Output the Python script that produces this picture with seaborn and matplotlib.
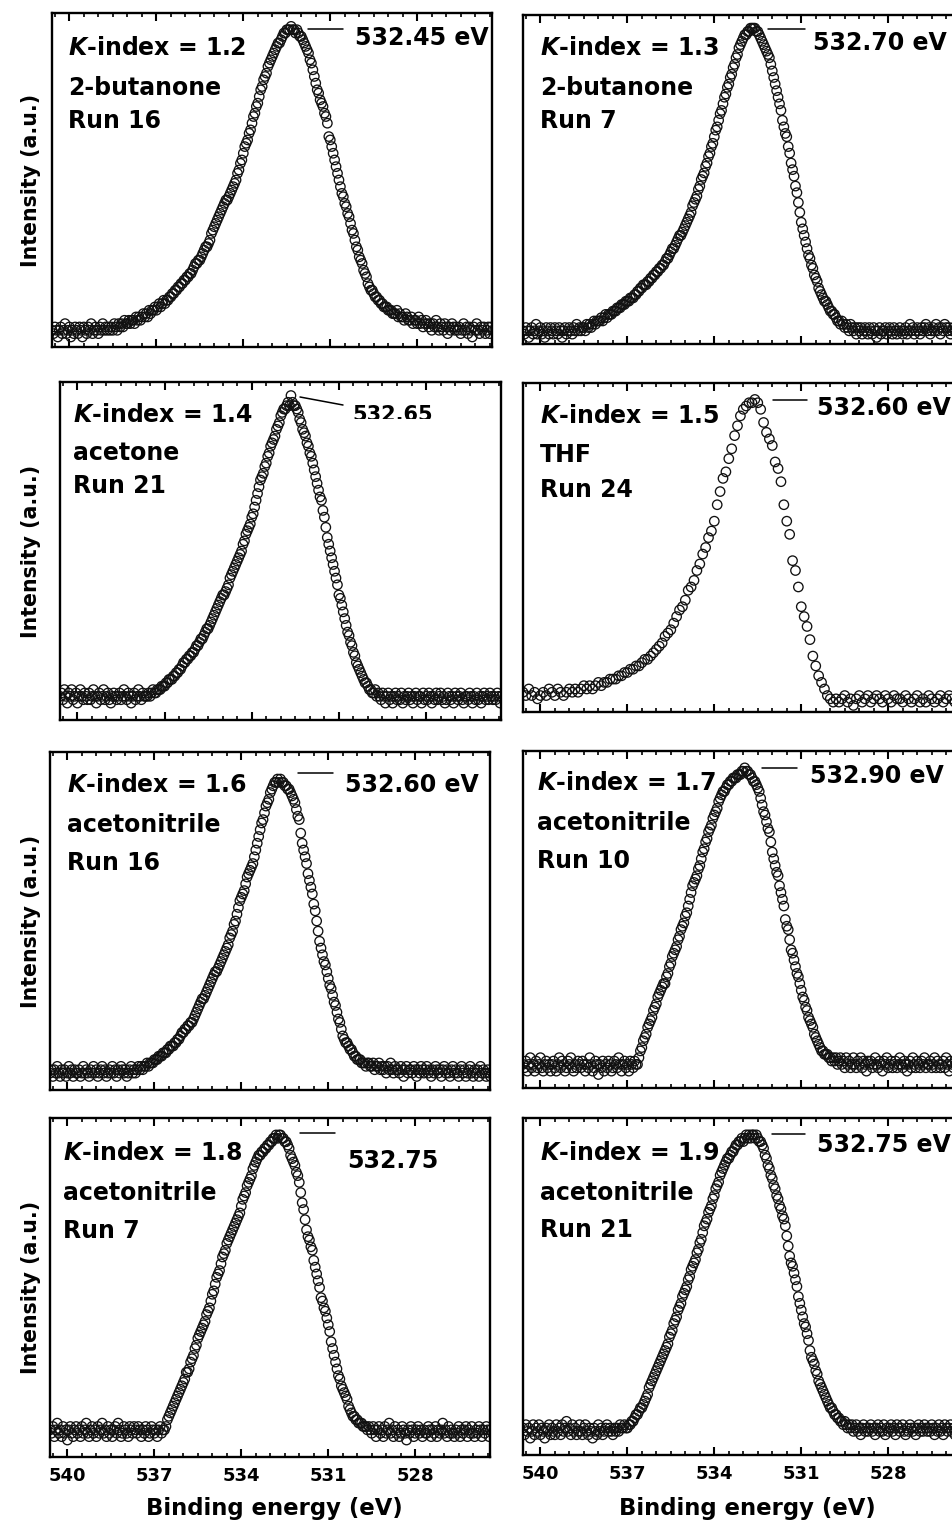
import numpy as np
import matplotlib
matplotlib.use("Agg")
import matplotlib.pyplot as plt
import seaborn as sns
from matplotlib.lines import Line2D
from matplotlib.ticker import MultipleLocator, FixedLocator
from matplotlib.transforms import Bbox, TransformedBbox

sns.set_style("white")
plt.rcParams["font.family"] = ["DejaVu Sans"]
plt.rcParams["font.weight"] = "bold"
plt.rcParams["mathtext.fontset"] = "dejavusans"
plt.rcParams["text.color"] = "black"
plt.rcParams["axes.labelcolor"] = "black"
plt.rcParams["axes.edgecolor"] = "black"
plt.rcParams["xtick.color"] = "black"
plt.rcParams["xtick.labelcolor"] = "black"

# ---------------------------------------------------------------- data
# O 1s spectra, intensity in % of the panel height; energies run from
# E_START downwards in fixed steps (one row below = 1 eV).
E_START = 540.60
STEP_FINE = 0.05
STEP_COARSE = 0.10

k_index = ["1.2", "1.3", "1.4", "1.5", "1.6", "1.7", "1.8", "1.9"]
solvents = ["2-butanone", "2-butanone", "acetone", "THF",
            "acetonitrile", "acetonitrile", "acetonitrile", "acetonitrile"]
runs = ["Run 16", "Run 7", "Run 21", "Run 24", "Run 16", "Run 10", "Run 7", "Run 21"]
peak_labels = ["532.45 eV", "532.70 eV", "532.65", "532.60 eV",
               "532.60 eV", "532.90 eV", "532.75", "532.75 eV"]
x_ticks = [540, 537, 534, 531, 528]

int_k12 = [
    5, 4, 6, 5, 3, 5, 6, 4, 5, 7, 4, 5, 6, 3, 5, 4, 6, 5, 4, 6,
    5, 3, 6, 5, 4, 6, 5, 7, 4, 5, 6, 5, 4, 6, 5, 7, 5, 6, 5, 6,
    5, 6, 5, 7, 6, 5, 7, 6, 7, 6, 8, 7, 7, 8, 7, 8, 8, 7, 9, 8,
    9, 8, 9, 10, 9, 10, 9, 11, 10, 11, 11, 12, 11, 12, 13, 12, 13, 14, 13, 14,
    14, 15, 15, 16, 16, 17, 17, 18, 18, 19, 19, 20, 20, 21, 21, 22, 22, 23, 24, 25,
    25, 26, 26, 27, 28, 29, 30, 30, 31, 32, 34, 35, 36, 37, 38, 39, 40, 41, 42, 43,
    44, 44, 45, 46, 47, 48, 49, 50, 52, 53, 55, 56, 58, 60, 61, 62, 64, 65, 67, 69,
    70, 72, 73, 75, 77, 78, 80, 81, 82, 84, 85, 86, 87, 88, 89, 90, 91, 91, 92, 93,
    94, 94, 95, 95, 95, 96, 95, 95, 94, 95, 94, 93, 93, 92, 91, 90, 89, 88, 86, 85,
    83, 81, 79, 77, 76, 74, 73, 72, 70, 69, 67, 63, 62, 60, 58, 56, 54, 52, 50, 48,
    46, 45, 43, 42, 40, 39, 37, 35, 34, 32, 30, 29, 27, 26, 25, 23, 22, 21, 19, 18,
    17, 17, 16, 15, 15, 14, 14, 13, 13, 12, 12, 12, 11, 11, 11, 10, 10, 10, 11, 9,
    10, 9, 9, 8, 10, 9, 8, 8, 9, 7, 8, 8, 7, 9, 7, 8, 6, 7, 8, 7,
    6, 7, 5, 7, 6, 8, 6, 5, 7, 6, 5, 7, 6, 4, 6, 5, 7, 6, 5, 6,
    5, 6, 4, 5, 7, 5, 6, 4, 6, 5, 3, 6, 5, 7, 5, 4, 6, 5, 6, 4,
    5, 6, 4, 6, 5,
]

int_k13 = [
    4, 3, 5, 4, 2, 4, 5, 3, 4, 6, 3, 4, 5, 3, 4, 2, 5, 4, 3, 5,
    4, 3, 5, 4, 3, 5, 4, 2, 4, 5, 3, 4, 5, 4, 3, 5, 4, 6, 4, 5,
    4, 5, 5, 4, 6, 5, 6, 5, 6, 7, 6, 7, 7, 7, 8, 7, 8, 9, 8, 9,
    9, 9, 10, 10, 10, 11, 11, 11, 12, 12, 12, 13, 13, 13, 14, 14, 14, 15, 15, 16,
    16, 17, 17, 18, 18, 18, 19, 19, 20, 20, 21, 21, 22, 22, 23, 23, 24, 24, 25, 26,
    26, 27, 28, 29, 29, 30, 31, 32, 33, 33, 34, 35, 36, 37, 38, 39, 40, 42, 43, 44,
    45, 47, 48, 50, 51, 52, 54, 55, 57, 58, 60, 61, 63, 65, 66, 68, 70, 71, 73, 75,
    76, 78, 79, 81, 82, 84, 85, 87, 88, 90, 91, 92, 93, 94, 94, 95, 95, 96, 96, 96,
    96, 95, 95, 94, 93, 92, 91, 90, 89, 88, 87, 85, 83, 81, 79, 77, 75, 73, 71, 68,
    66, 64, 63, 60, 58, 55, 53, 51, 48, 46, 43, 40, 37, 35, 33, 31, 29, 27, 26, 24,
    23, 21, 20, 19, 17, 16, 15, 14, 13, 13, 12, 11, 10, 10, 9, 9, 8, 7, 7, 6,
    7, 6, 5, 6, 5, 4, 6, 5, 4, 5, 3, 5, 4, 5, 3, 4, 5, 4, 3, 5,
    4, 3, 5, 4, 2, 4, 5, 3, 4, 4, 5, 3, 4, 5, 4, 3, 5, 4, 3, 4,
    5, 4, 3, 4, 5, 3, 4, 6, 4, 5, 3, 4, 5, 4, 3, 5, 4, 5, 6, 4,
    5, 3, 4, 5, 4, 6, 4, 5, 3, 5, 4, 6, 5, 4, 5, 3, 4, 5, 4, 5,
    4, 5, 3, 4, 5,
]

int_k14 = [
    7, 8, 6, 9, 7, 5, 8, 7, 9, 6, 7, 8, 5, 7, 9, 7, 6, 8, 7, 6,
    8, 6, 7, 9, 7, 5, 7, 8, 6, 7, 9, 6, 7, 8, 6, 5, 7, 8, 7, 6,
    7, 8, 6, 7, 9, 7, 6, 8, 7, 5, 7, 8, 6, 7, 9, 7, 6, 8, 7, 7,
    7, 8, 7, 8, 9, 8, 8, 9, 9, 9, 10, 10, 10, 11, 11, 12, 12, 12, 13, 13,
    14, 14, 15, 15, 16, 17, 17, 18, 18, 19, 19, 20, 20, 21, 22, 22, 23, 24, 24, 25,
    26, 27, 27, 28, 29, 30, 31, 32, 33, 34, 35, 36, 37, 37, 38, 39, 40, 42, 43, 44,
    45, 46, 47, 48, 49, 50, 52, 53, 55, 56, 57, 58, 60, 61, 63, 65, 67, 69, 71, 72,
    73, 75, 76, 78, 79, 81, 82, 83, 84, 86, 87, 88, 90, 91, 92, 92, 93, 94, 93, 96,
    94, 93, 93, 92, 91, 89, 88, 86, 85, 84, 82, 81, 79, 78, 76, 74, 72, 70, 68, 66,
    65, 62, 60, 57, 54, 52, 50, 48, 46, 44, 42, 40, 37, 36, 34, 32, 30, 28, 26, 25,
    23, 22, 20, 19, 17, 16, 15, 14, 13, 12, 11, 11, 10, 9, 9, 8, 8, 9, 7, 8,
    7, 6, 8, 7, 5, 7, 8, 6, 7, 5, 7, 8, 6, 7, 6, 8, 5, 7, 6, 7,
    8, 6, 7, 5, 7, 8, 6, 7, 7, 5, 8, 6, 7, 6, 8, 7, 5, 7, 6, 8,
    6, 7, 8, 6, 7, 5, 6, 8, 7, 6, 7, 5, 8, 7, 6, 7, 8, 6, 5, 7,
    7, 6, 8, 7, 5, 7, 6, 8, 6, 7, 5, 7, 8, 6, 7, 6, 8, 7, 6, 7,
    6, 8, 7, 5, 7,
]

# THF run, recorded with the coarser 0.1 eV step (ten values per row)
int_k15 = [
    6, 5, 7, 5, 6, 4, 5, 6, 5, 7,
    6, 5, 7, 6, 5, 6, 7, 6, 7, 6,
    7, 8, 7, 8, 7, 8, 9, 8, 9, 9,
    10, 10, 10, 11, 11, 12, 12, 13, 13, 14,
    14, 15, 16, 16, 17, 18, 19, 20, 21, 23,
    24, 25, 27, 29, 31, 32, 34, 37, 38, 40,
    43, 45, 48, 50, 53, 55, 58, 63, 67, 71,
    73, 77, 80, 84, 87, 90, 92, 93, 94, 94,
    95, 94, 92, 88, 85, 83, 81, 76, 74, 70,
    63, 58, 54, 46, 43, 38, 32, 29, 26, 22,
    17, 14, 11, 9, 7, 5, 4, 3, 4, 3,
    4, 5, 3, 4, 2, 4, 5, 3, 4, 5,
    3, 4, 5, 4, 3, 5, 4, 3, 5, 4,
    4, 3, 5, 4, 3, 4, 5, 3, 4, 3,
    5, 4, 3, 4, 5, 3, 4, 5, 4, 3,
    4, 5, 3,
]

int_k16 = [
    5, 6, 4, 6, 5, 7, 5, 4, 6, 5, 6, 4, 5, 7, 5, 6, 4, 6, 5, 5,
    6, 4, 5, 7, 5, 6, 5, 4, 6, 5, 7, 5, 6, 4, 5, 6, 7, 5, 6, 4,
    5, 6, 5, 7, 5, 6, 4, 6, 5, 7, 6, 5, 6, 4, 5, 6, 7, 5, 6, 5,
    6, 7, 6, 7, 6, 7, 7, 8, 7, 8, 8, 8, 9, 9, 9, 10, 10, 10, 11, 11,
    11, 12, 12, 13, 13, 13, 14, 14, 15, 15, 16, 17, 17, 18, 18, 19, 19, 20, 20, 21,
    22, 23, 24, 25, 26, 27, 27, 28, 29, 30, 31, 32, 33, 34, 35, 35, 36, 37, 38, 39,
    40, 41, 42, 43, 45, 46, 47, 49, 50, 52, 54, 56, 57, 58, 59, 61, 63, 64, 65, 66,
    67, 69, 71, 73, 75, 77, 79, 80, 82, 84, 85, 86, 88, 89, 90, 91, 91, 92, 91, 92,
    91, 91, 90, 90, 89, 89, 88, 87, 86, 85, 83, 81, 80, 76, 73, 71, 69, 67, 64, 62,
    60, 58, 55, 53, 50, 47, 44, 42, 40, 38, 37, 35, 33, 31, 30, 28, 26, 25, 23, 21,
    20, 18, 16, 15, 14, 14, 13, 12, 12, 11, 10, 10, 9, 9, 9, 8, 8, 8, 7, 8,
    8, 7, 7, 8, 6, 7, 7, 8, 6, 7, 6, 7, 5, 7, 6, 8, 6, 5, 7, 6,
    6, 5, 7, 6, 4, 6, 7, 5, 6, 6, 5, 7, 6, 4, 6, 5, 7, 6, 5, 6,
    7, 5, 6, 4, 6, 5, 7, 6, 5, 6, 4, 6, 7, 5, 6, 5, 4, 6, 7, 5,
    6, 5, 4, 6, 7, 5, 6, 4, 5, 6, 7, 5, 4, 6, 5, 6, 4, 7, 5, 6,
    5, 4, 6, 5, 4,
]

int_k17 = [
    7, 6, 8, 5, 7, 9, 6, 7, 5, 8, 6, 7, 9, 6, 5, 7, 8, 6, 7, 5,
    7, 8, 6, 5, 7, 9, 6, 8, 7, 5, 6, 8, 7, 9, 6, 5, 7, 6, 8, 7,
    6, 8, 7, 5, 7, 6, 9, 7, 5, 6, 8, 7, 4, 7, 6, 8, 5, 7, 6, 8,
    7, 5, 6, 8, 7, 6, 9, 7, 5, 7, 8, 6, 7, 5, 8, 7, 6, 8, 7, 7,
    9, 11, 12, 14, 15, 16, 18, 19, 20, 21, 23, 24, 25, 27, 28, 29, 30, 31, 31, 33,
    34, 36, 37, 39, 40, 41, 42, 44, 45, 47, 48, 49, 51, 52, 54, 56, 58, 60, 61, 62,
    63, 65, 66, 68, 70, 71, 73, 74, 76, 77, 78, 80, 81, 82, 83, 85, 86, 87, 88, 88,
    89, 90, 90, 91, 91, 92, 92, 92, 93, 93, 93, 94, 94, 95, 94, 94, 93, 93, 92, 91,
    91, 90, 89, 88, 86, 84, 82, 81, 79, 77, 76, 73, 70, 68, 66, 64, 63, 60, 58, 56,
    54, 50, 48, 47, 44, 41, 40, 38, 36, 34, 33, 31, 29, 27, 26, 24, 23, 21, 20, 19,
    18, 16, 15, 14, 13, 12, 11, 11, 10, 10, 10, 9, 9, 8, 9, 8, 9, 7, 8, 9,
    7, 8, 6, 9, 7, 8, 6, 7, 9, 7, 6, 8, 7, 9, 6, 8, 7, 5, 8, 7,
    8, 6, 7, 9, 7, 6, 8, 7, 5, 8, 7, 9, 6, 7, 8, 6, 7, 8, 6, 7,
    9, 7, 6, 8, 7, 5, 7, 8, 6, 9, 7, 6, 8, 7, 6, 8, 7, 9, 6, 7,
    7, 8, 6, 7, 9, 6, 8, 7, 6, 7, 8, 6, 9, 7, 5, 8, 7, 6, 8, 7,
    8, 7, 6, 8, 7,
]

int_k18 = [
    8, 7, 9, 6, 8, 10, 7, 8, 6, 9, 7, 8, 5, 8, 9, 7, 6, 8, 9, 7,
    8, 6, 9, 7, 8, 10, 7, 6, 8, 9, 7, 8, 6, 9, 7, 8, 10, 7, 8, 6,
    9, 7, 8, 6, 8, 9, 7, 10, 8, 6, 7, 9, 8, 7, 6, 9, 8, 7, 9, 8,
    7, 9, 8, 6, 8, 7, 9, 8, 6, 7, 9, 8, 7, 8, 6, 8, 9, 7, 8, 8,
    9, 11, 12, 13, 14, 15, 16, 17, 18, 19, 20, 21, 22, 23, 25, 25, 26, 28, 29, 30,
    32, 33, 35, 36, 37, 38, 39, 40, 42, 43, 44, 46, 48, 49, 51, 53, 54, 55, 57, 59,
    60, 61, 63, 64, 65, 66, 67, 68, 69, 70, 71, 72, 74, 76, 77, 78, 80, 81, 82, 83,
    85, 86, 87, 88, 89, 89, 90, 90, 91, 91, 92, 92, 93, 93, 94, 94, 95, 94, 95, 95,
    94, 94, 93, 93, 92, 91, 89, 88, 87, 86, 84, 83, 81, 78, 75, 73, 70, 67, 65, 64,
    62, 61, 58, 56, 54, 52, 50, 47, 46, 44, 43, 41, 39, 37, 34, 32, 30, 28, 26, 24,
    23, 21, 20, 19, 18, 17, 15, 14, 13, 12, 12, 11, 11, 10, 10, 10, 9, 9, 9, 8,
    9, 8, 7, 9, 8, 6, 8, 9, 7, 8, 6, 9, 7, 8, 10, 7, 8, 6, 9, 7,
    8, 6, 7, 9, 8, 7, 5, 8, 7, 9, 8, 6, 7, 8, 9, 7, 8, 6, 8, 7,
    7, 9, 8, 6, 8, 7, 9, 6, 8, 7, 8, 10, 7, 8, 6, 9, 7, 8, 7, 6,
    8, 7, 9, 6, 8, 7, 8, 9, 6, 8, 7, 9, 7, 6, 8, 7, 9, 8, 6, 8,
    7, 9, 8, 6, 8,
]

int_k19 = [
    8, 6, 9, 7, 8, 5, 7, 9, 6, 8, 7, 9, 6, 8, 7, 5, 8, 7, 9, 6,
    8, 7, 6, 9, 7, 8, 6, 9, 7, 8, 10, 7, 8, 6, 9, 7, 8, 6, 7, 9,
    7, 6, 8, 9, 7, 6, 8, 7, 5, 8, 7, 6, 9, 7, 8, 6, 7, 8, 9, 7,
    8, 7, 6, 8, 7, 8, 7, 9, 8, 8, 9, 8, 8, 9, 9, 10, 10, 11, 12, 12,
    13, 14, 14, 15, 16, 17, 18, 20, 21, 22, 23, 24, 25, 26, 27, 28, 29, 30, 31, 32,
    33, 35, 36, 37, 39, 40, 41, 43, 44, 45, 47, 48, 49, 50, 52, 53, 55, 56, 57, 58,
    60, 61, 63, 64, 66, 68, 69, 70, 72, 73, 74, 76, 77, 79, 80, 81, 83, 84, 85, 86,
    87, 88, 88, 89, 90, 90, 91, 92, 92, 93, 93, 94, 93, 94, 95, 94, 95, 94, 95, 95,
    94, 95, 94, 93, 93, 92, 91, 89, 88, 86, 85, 83, 82, 80, 79, 77, 76, 74, 73, 71,
    70, 68, 65, 62, 59, 57, 56, 54, 52, 50, 47, 45, 43, 41, 39, 38, 36, 34, 31, 29,
    28, 27, 25, 24, 22, 21, 20, 19, 18, 17, 16, 15, 14, 14, 13, 12, 12, 11, 11, 10,
    10, 9, 10, 9, 8, 9, 8, 9, 7, 8, 9, 7, 8, 6, 8, 9, 7, 8, 7, 8,
    9, 7, 8, 6, 8, 9, 7, 8, 7, 9, 6, 8, 7, 8, 9, 7, 8, 6, 9, 8,
    7, 8, 9, 7, 6, 8, 7, 9, 8, 7, 8, 6, 8, 9, 7, 8, 7, 9, 8, 7,
    8, 7, 9, 8, 6, 8, 7, 9, 7, 8, 6, 9, 8, 7, 8, 9, 7, 8, 6, 8,
    7, 9, 8, 7, 8,
]

spectra = [int_k12, int_k13, int_k14, int_k15, int_k16, int_k17, int_k18, int_k19]
steps = [STEP_FINE, STEP_FINE, STEP_FINE, STEP_COARSE,
         STEP_FINE, STEP_FINE, STEP_FINE, STEP_FINE]

# ---------------------------------------------------------------- layout
W, H = 953, 1527
fig = plt.figure(figsize=(W / 100, H / 100), dpi=100)
fig.patch.set_facecolor("white")


def fx(px):
    return px / W


def fy(py):
    return 1 - py / H


# panel frames in pixels: left, top, width, height
frames = [
    (52, 13, 440, 334), (523, 15, 440, 329),
    (60, 382, 441, 338), (523, 383, 440, 329),
    (50, 752, 440, 338), (523, 751, 440, 337),
    (50, 1118, 440, 339), (523, 1118, 440, 337),
]
# text block: left x, baselines of the three lines
text_pos = [
    (68, (55, 95, 128)), (540, (55, 95, 128)),
    (73, (422, 460, 493)), (540, (423, 462, 497)),
    (67, (792, 832, 870)), (537, (790, 830, 868)),
    (63, (1160, 1200, 1238)), (540, (1160, 1200, 1237)),
]
# peak label: left x, baseline, font size
peak_pos = [
    (355, 45, 17), (813, 50, 17), (352, 421, 15), (817, 415, 17),
    (345, 792, 17), (810, 783, 17), (347, 1168, 17), (817, 1152, 17),
]
# leader lines next to the peak labels
leaders = [
    ((308, 343), (29, 29)), ((768, 805), (29, 29)),
    ((300, 343), (397, 405)), ((773, 807), (400, 400)),
    ((298, 333), (773, 773)), ((762, 797), (768, 768)),
    ((300, 335), (1133, 1133)), ((772, 805), (1134, 1134)),
]

for i, y in enumerate(spectra):
    l, t, w, h = frames[i]
    ax = fig.add_axes([fx(l), fy(t + h), w / W, h / H])
    energy = E_START - steps[i] * np.arange(len(y))
    sns.scatterplot(x=energy, y=y, ax=ax, marker="o", s=46,
                    linewidth=0.95, legend=False)
    pts = ax.collections[-1]
    pts.set_facecolor("none")
    pts.set_edgecolor("#111111")

    ax.set_xlim(540.6, 525.42)
    ax.set_ylim(0, 100)
    ax.set_xlabel("")
    ax.set_ylabel("")
    ax.set_yticks([])
    ax.xaxis.set_major_locator(FixedLocator(x_ticks))
    ax.xaxis.set_minor_locator(MultipleLocator(0.5))
    ax.tick_params(axis="x", which="both", direction="in", top=True, bottom=True,
                   color="black", labelcolor="black")
    ax.tick_params(axis="x", which="major", length=6, width=1.5,
                   labelsize=13, pad=7)
    ax.tick_params(axis="x", which="minor", length=3.2, width=1.2)
    if i < 6:
        ax.tick_params(axis="x", which="both", labelbottom=False)
    for sp in ax.spines.values():
        sp.set_visible(True)
        sp.set_linewidth(1.7)
        sp.set_color("black")

    tx, (b1, b2, b3) = text_pos[i]
    fig.text(fx(tx), fy(b1), r"$\bfit{K}$-index = " + k_index[i],
             fontsize=17, fontweight="bold", va="baseline", ha="left")
    fig.text(fx(tx), fy(b2), solvents[i], fontsize=17, fontweight="bold",
             va="baseline", ha="left")
    fig.text(fx(tx), fy(b3), runs[i], fontsize=17, fontweight="bold",
             va="baseline", ha="left")

    px, pb, fs = peak_pos[i]
    lab = fig.text(fx(px), fy(pb), peak_labels[i], fontsize=fs,
                   fontweight="bold", va="baseline", ha="left")
    if i == 2:
        # this label sits in a box that trims its lower edge
        lab.set_clip_box(TransformedBbox(Bbox([[0, fy(419)], [1, 1]]),
                                         fig.transFigure))
        lab.set_clip_on(True)

    (lx0, lx1), (ly0, ly1) = leaders[i]
    fig.add_artist(Line2D([fx(lx0), fx(lx1)], [fy(ly0), fy(ly1)],
                          transform=fig.transFigure, color="black", lw=1.1))

# axis titles
for yc in (180, 551, 921, 1287):
    fig.text(fx(31), fy(yc), "Intensity (a.u.)", rotation=90, fontsize=14.8,
             fontweight="bold", ha="center", va="center")
for xc in (274, 747):
    fig.text(fx(xc), fy(1515), "Binding energy (eV)", fontsize=16.4,
             fontweight="bold", ha="center", va="baseline")

fig.savefig("out.png", dpi=100, facecolor="white")
